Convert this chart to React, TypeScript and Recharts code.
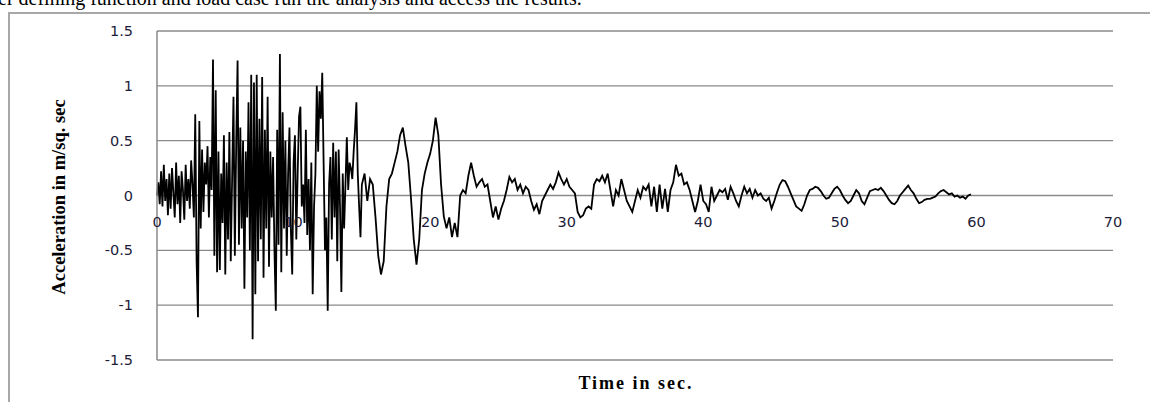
import { LineChart, Line, XAxis, YAxis, CartesianGrid } from "recharts";

// strong-motion part, sampled every 0.1 s from t = 0
const accelA = [
  0, 0.12, -0.08, 0.22, -0.1, 0.28, -0.05, 0.15, -0.18, 0.2,
  -0.12, 0.25, 0.02, -0.2, 0.3, -0.08, 0.18, -0.25, 0.22, 0.05,
  -0.22, 0.28, -0.05, 0.15, -0.12, 0.32, 0.1, -0.2, 0.74, -0.6,
  -1.11, 0.68, -0.3, 0.42, -0.15, 0.3, 0.1, 0.45, -0.2, 0.35,
  0.05, 1.24, -0.55, 0.96, -0.7, 0.4, -0.68, 0.2, -0.25, 0.55,
  -0.72, 0.3, -0.4, 0.58, -0.6, 0.15, 0.9, -0.55, 0.48, 1.23,
  -0.45, 0.62, -0.3, 0.5, -0.85, 0.4, -0.2, 0.85, -0.5, 1.1,
  -1.31, 1.03, -0.9, 1.1, -0.6, 0.7, -0.4, 1.08, -0.75, 0.6,
  -0.3, 0.9, -0.65, 0.4, -0.2, 0.35, -0.5, -1.05, 0.6, -0.45,
  1.29, -0.7, 0.76, -0.3, 0.5, -0.55, 0.2, 0.62, -0.3, -0.72,
  0.3, 0.55, -0.4, 0.2, 0.72, 0.81, -0.1, 0.1, -0.25, 0.6,
  -0.36, 0.15, -0.5, 0.3, -0.9, -0.1, 0.2, 1.0, 0.4, 0.95,
  0.7, 1.12, 0.3, -0.5, -0.2, -1.05, 0.1, 0.35, -0.4, 0.48,
  -0.2, 0.4, -0.6, 0.42, -0.1, -0.88, 0.2, -0.3, 0.1, 0.53,
  0.05, 0.3, 0.25, 0.15, 0.4, 0.6, 0.85, 0.2, -0.1, -0.38,
];

// remainder, sampled every 0.2 s from t = 15
const accelB = [
  0.1, 0.2, -0.05, 0.15, 0.1, -0.2, -0.55, -0.72, -0.6, -0.1,
  0.15, 0.2, 0.3, 0.4, 0.55, 0.62, 0.45, 0.3, -0.03, -0.4,
  -0.63, -0.4, 0.05, 0.2, 0.3, 0.38, 0.5, 0.71, 0.55, 0.1,
  -0.19, -0.3, -0.2, -0.38, -0.25, -0.38, 0.0, 0.05, 0.02, 0.18,
  0.3, 0.18, 0.08, 0.12, 0.15, 0.08, 0.1, -0.05, -0.2, -0.1,
  -0.22, -0.12, -0.05, 0.05, 0.17, 0.12, 0.15, 0.05, 0.1, 0.02,
  0.08, 0.05, -0.05, -0.13, -0.08, -0.17, -0.05, 0.0, 0.05, 0.1,
  0.06, 0.12, 0.21, 0.15, 0.1, 0.15, 0.08, 0.05, 0.02, -0.15,
  -0.2, -0.18, -0.12, -0.1, -0.12, 0.1, 0.15, 0.13, 0.18, 0.12,
  0.2, 0.05, -0.1, 0.05, 0.0, 0.15, 0.05, -0.05, -0.1, -0.15,
  -0.05, 0.05, -0.02, 0.08, 0.05, 0.1, -0.1, 0.08, -0.15, 0.1,
  -0.12, 0.06, -0.15, 0.05, 0.12, 0.28, 0.18, 0.2, 0.1, 0.12,
  0.05, -0.05, -0.15, -0.05, 0.1, -0.05, -0.08, -0.15, 0.08, -0.05,
  0.0, 0.05, 0.03, 0.06, -0.04, 0.08, 0.02, -0.05, -0.1, 0.0,
  0.08, 0.02, 0.06, -0.02, 0.05, 0.0, 0.02, -0.03, -0.05, -0.02,
  -0.12, -0.05, 0.03, 0.1, 0.14, 0.13, 0.08, 0.02, -0.04, -0.1,
  -0.12, -0.14, -0.08, 0.0, 0.05, 0.06, 0.08, 0.07, 0.04, 0.0,
  -0.03, -0.02, 0.02, 0.06, 0.08, 0.05, 0.0, -0.04, -0.07, -0.05,
  0.0, 0.05, 0.02, -0.05, -0.08, -0.02, 0.04, 0.05, 0.06, 0.05,
  0.07, 0.04, 0.0, -0.04, -0.07, -0.08, -0.05, 0.0, 0.03, 0.06,
  0.09, 0.05, 0.02, -0.03, -0.07, -0.06, -0.04, -0.03, -0.03, -0.02,
  -0.01, 0.02, 0.04, 0.05, 0.03, 0.01, 0.02, -0.01, 0.0, -0.02,
  -0.01, -0.03, 0.0, 0.01,
];

const xTicks = [0, 10, 20, 30, 40, 50, 60, 70];
const yTicks = [-1.5, -1, -0.5, 0, 0.5, 1, 1.5];

const data = [
  ...accelA.map((a, i) => ({ t: i / 10, a })),
  ...accelB.map((a, i) => ({ t: (150 + i * 2) / 10, a })),
];

const tickFont = { fontFamily: "DejaVu Sans", fontSize: 14.5, fill: "#1c1c3a" };

export default function App() {
  return (
    <div
      style={{
        position: "fixed",
        left: 0,
        top: 0,
        width: 1150,
        height: 402,
        background: "#fff",
        overflow: "hidden",
      }}
    >
      {/* bit of the document text above the figure */}
      <div
        style={{
          position: "absolute",
          left: -2,
          top: -12,
          fontFamily: "Liberation Serif",
          fontSize: 20,
          lineHeight: "20px",
          whiteSpace: "nowrap",
          color: "#000",
        }}
      >
        er defining function and load case run the analysis and access the results.
      </div>
      {/* outer chart frame */}
      <div
        style={{
          position: "absolute",
          left: 8,
          top: 12,
          width: 1160,
          height: 420,
          borderLeft: "2px solid #a8a8a8",
          borderTop: "2px solid #a8a8a8",
        }}
      />
      <div style={{ position: "absolute", left: 0, top: 0 }}>
        <LineChart
          width={1150}
          height={402}
          data={data}
          margin={{ top: 31, right: 37, bottom: 12, left: 0 }}
        >
          <CartesianGrid vertical={false} stroke="#8a8a8a" strokeWidth={1.3} />
          <XAxis
            type="number"
            dataKey="t"
            domain={[0, 70]}
            ticks={xTicks}
            height={30}
            axisLine={false}
            tickLine={false}
            tickSize={0}
            tickMargin={0}
            tick={{ ...tickFont, dy: -143 }}
          />
          <YAxis
            domain={[-1.5, 1.5]}
            ticks={yTicks}
            width={157}
            axisLine={{ stroke: "#8a8a8a", strokeWidth: 1.5 }}
            tickLine={false}
            tickSize={0}
            tickMargin={24}
            tick={tickFont}
          />
          <Line
            type="linear"
            dataKey="a"
            stroke="#000"
            strokeWidth={1.8}
            dot={false}
            isAnimationActive={false}
          />
        </LineChart>
      </div>
      <div
        style={{
          position: "absolute",
          left: 59,
          top: 197,
          transform: "translate(-50%, -50%) rotate(-90deg)",
          fontFamily: "Liberation Serif",
          fontWeight: "bold",
          fontSize: 18.5,
          whiteSpace: "nowrap",
          color: "#000",
        }}
      >
        Acceleration in m/sq. sec
      </div>
      <div
        style={{
          position: "absolute",
          left: 636,
          top: 383,
          transform: "translate(-50%, -50%)",
          fontFamily: "Liberation Serif",
          fontWeight: "bold",
          fontSize: 18,
          letterSpacing: 2,
          whiteSpace: "nowrap",
          color: "#000",
        }}
      >
        Time in sec.
      </div>
    </div>
  );
}
